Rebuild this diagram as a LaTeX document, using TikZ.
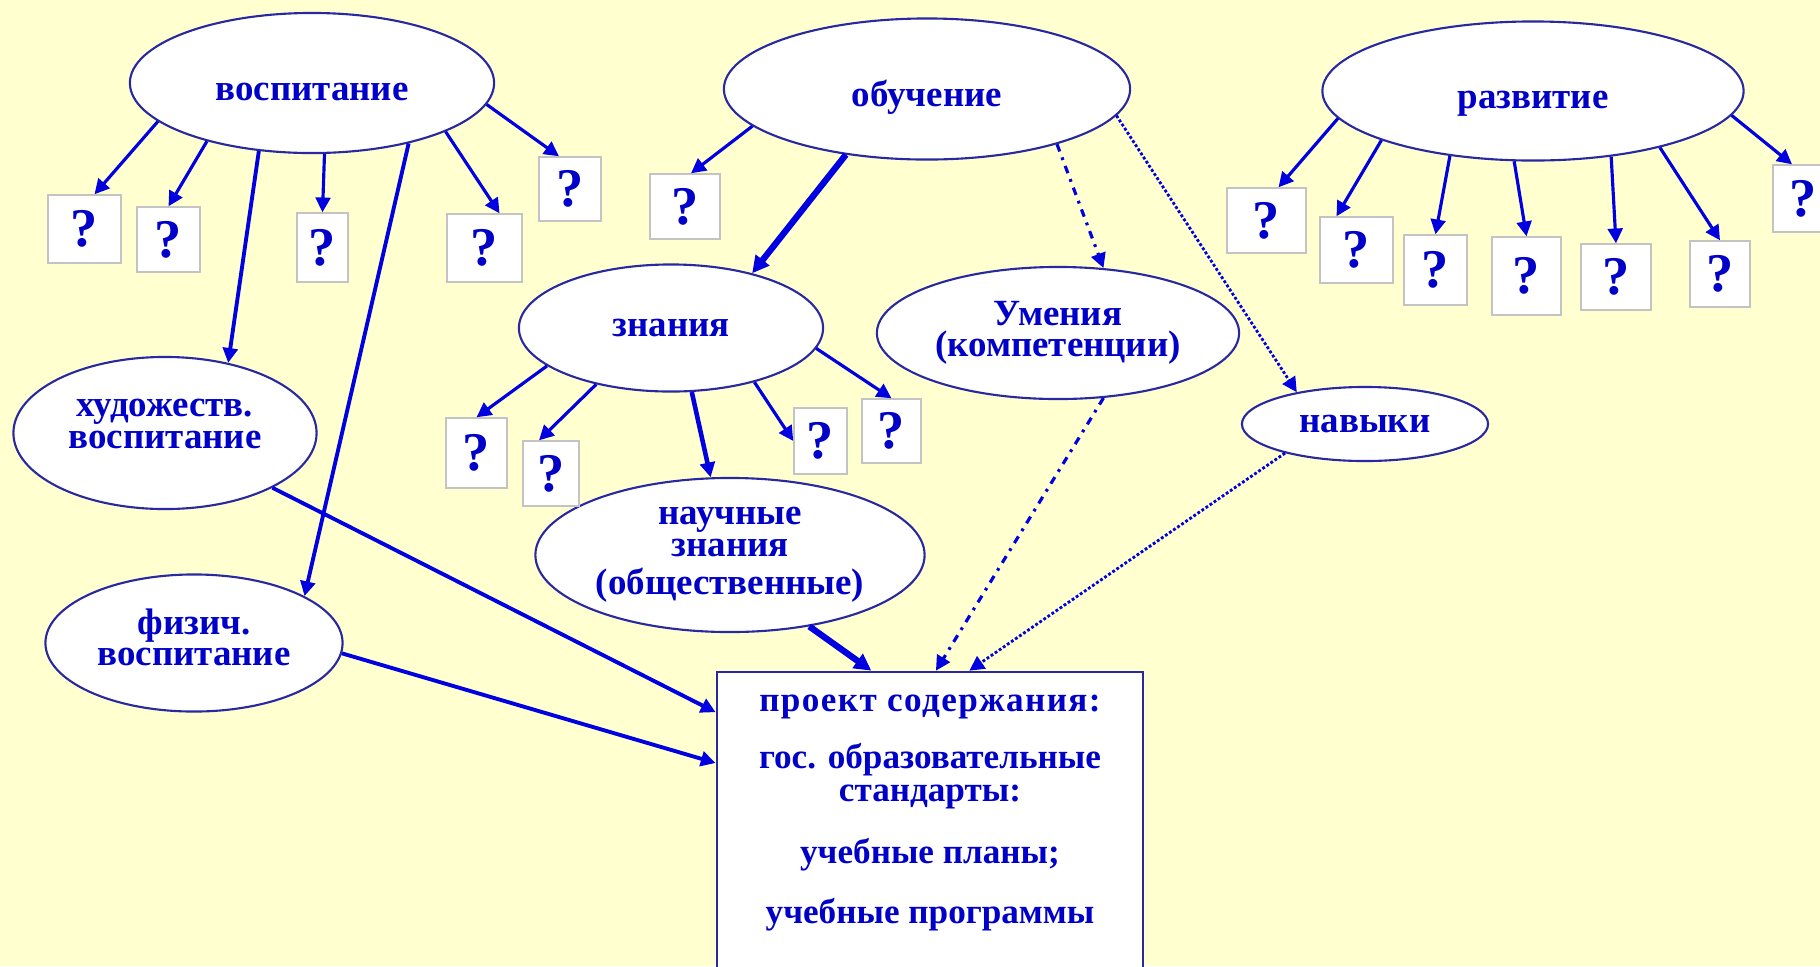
\documentclass[tikz,border=0pt]{standalone}
\usepackage{fontspec}
\setmainfont{Liberation Serif}
\usetikzlibrary{shapes.geometric,arrows.meta,positioning}
\definecolor{bgyel}{RGB}{255,255,208}
\definecolor{tblue}{RGB}{0,0,200}
\definecolor{lblue}{RGB}{0,0,225}
\definecolor{eline}{RGB}{40,40,160}
\definecolor{qgray}{RGB}{195,195,195}
\tikzset{
  enode/.style = {ellipse, draw=eline, line width=0.6pt, fill=white, text=tblue, align=center,
                  inner sep=0pt, font=\bfseries\fontsize{10.5}{9}\selectfont},
  hub/.style = {enode, text height=10pt, text depth=0pt},
  qnode/.style = {rectangle, draw=qgray, line width=0.4pt, fill=white, text=tblue, inner sep=0pt,
                  font=\bfseries\fontsize{15.5}{15.5}\selectfont},
  pnode/.style = {rectangle, draw=eline, line width=0.7pt, fill=white},
  ptext/.style = {anchor=base, inner sep=0pt, text=tblue, font=\bfseries\fontsize{10}{10}\selectfont},
  qarr/.style = {draw=lblue, line width=0.9pt, -{Triangle[length=4.2pt,width=4.2pt]}},
  longarr/.style = {qarr, line width=1.1pt},
  medarr/.style = {qarr, line width=1.3pt},
  fatarr/.style = {draw=lblue, line width=1.8pt, -{Triangle[length=4.8pt,width=4.8pt]}},
  dasharr/.style = {qarr, line width=0.9pt, dash pattern=on 2.2pt off 1.8pt on 0.8pt off 1.8pt},
  dotarr/.style = {qarr, line width=0.8pt, dash pattern=on 0.8pt off 0.6pt}
}
\begin{document}
\begin{tikzpicture}[x=0.01cm,y=-0.01cm]
\useasboundingbox (0,0) rectangle (1820,966);
\clip (0,0) rectangle (1820,966);
\fill[bgyel] (0,0) rectangle (1820,966);

% top row
\node[hub, minimum width=3.64cm, minimum height=1.40cm] (vosp) at (312,83) {воспитание};
\node[hub, minimum width=4.06cm, minimum height=1.41cm] (obuch) at (927,89) {обучение};
\node[hub, minimum width=4.21cm, minimum height=1.39cm] (razv) at (1533,91) {развитие};

% second level
\node[enode, minimum width=3.03cm, minimum height=1.52cm] (hud) at (165,433) {художеств.\\воспитание\\[-3.7pt]};
\node[enode, minimum width=2.97cm, minimum height=1.37cm] (fiz) at (194,643) {физич.\\воспитание\\[-5.6pt]};
\node[enode, minimum width=3.04cm, minimum height=1.27cm] (znan) at (671,328) {знания};
\node[enode, minimum width=3.89cm, minimum height=1.54cm] (nauch) at (730,555) {научные\\знания\\[2pt](общественные)};
\node[enode, minimum width=3.62cm, minimum height=1.32cm] (umen) at (1058,333) {Умения\\(компетенции)};
\node[enode, minimum width=2.46cm, minimum height=0.74cm] (navyk) at (1365,424) {навыки};

% question boxes
\node[qnode, minimum width=0.73cm, minimum height=0.68cm] (qv1) at (84.5,229) {?};
\node[qnode, minimum width=0.63cm, minimum height=0.65cm] (qv2) at (168.5,239.5) {?};
\node[qnode, minimum width=0.51cm, minimum height=0.69cm] (qv3) at (322.5,247.5) {?};
\node[qnode, minimum width=0.75cm, minimum height=0.68cm] (qv4) at (484.5,248) {?};
\node[qnode, minimum width=0.62cm, minimum height=0.64cm] (qv5) at (570,189) {?};
\node[qnode, minimum width=0.70cm, minimum height=0.65cm] (qo1) at (685,206.5) {?};
\node[qnode, minimum width=0.61cm, minimum height=0.70cm] (qk1) at (476.5,453) {?};
\node[qnode, minimum width=0.56cm, minimum height=0.65cm] (qk2) at (551,473.5) {?};
\node[qnode, minimum width=0.53cm, minimum height=0.66cm] (qk3) at (820.5,441) {?};
\node[qnode, minimum width=0.59cm, minimum height=0.64cm] (qk4) at (891.5,431) {?};
\node[qnode, minimum width=0.79cm, minimum height=0.65cm] (qr1) at (1266.5,220.5) {?};
\node[qnode, minimum width=0.73cm, minimum height=0.66cm] (qr2) at (1356.5,250) {?};
\node[qnode, minimum width=0.63cm, minimum height=0.70cm] (qr3) at (1435.5,270) {?};
\node[qnode, minimum width=0.69cm, minimum height=0.78cm] (qr4) at (1526.5,276) {?};
\node[qnode, minimum width=0.70cm, minimum height=0.66cm] (qr5) at (1616,277) {?};
\node[qnode, minimum width=0.60cm, minimum height=0.66cm] (qr6) at (1720,274) {?};
\node[qnode, minimum width=0.60cm, minimum height=0.67cm] (qr7) at (1803,198.5) {?};

% project box
\node[pnode, minimum width=4.26cm, minimum height=3.38cm] (proj) at (930,841) {};
\node[ptext] (pt1) at (930,711) {\addfontfeature{LetterSpace=4}проект содержания:};
\node[ptext] (pt2) at (930,768) {гос. образовательные};
\node[ptext] (pt3) at (930,801) {стандарты:};
\node[ptext] (pt4) at (930,863) {учебные планы;};
\node[ptext] (pt5) at (930,923) {учебные программы};

% воспитание
\draw[qarr] (vosp.194) -- ([xshift=0.1cm]qv1.north);
\draw[qarr] (vosp.209) -- (qv2.north);
\draw[qarr] (vosp.280) -- (qv3.north);
\draw[qarr] (vosp.340) -- ([xshift=0.15cm]qv4.north);
\draw[qarr] (vosp.353) -- ([xshift=-0.11cm]qv5.north);
\draw[longarr] (vosp.232) -- (hud.48);
\draw[longarr] (vosp.328) -- (fiz.23);

% обучение
\draw[qarr] (obuch.192) -- ([xshift=0.06cm]qo1.north);
\draw[fatarr] (obuch.219) -- (znan.34);
\draw[dasharr] (obuch.337) -- (umen.55);
\draw[dotarr] (obuch.352) -- (navyk.155);

% развитие
\draw[qarr] (razv.188) -- ([xshift=0.12cm]qr1.north);
\draw[qarr] (razv.198) -- ([xshift=-0.2cm]qr2.north);
\draw[qarr] (razv.218) -- (qr3.north);
\draw[qarr] (razv.255) -- (qr4.north);
\draw[qarr] (razv.320) -- (qr5.north);
\draw[qarr] (razv.336) -- (qr6.north);
\draw[qarr] (razv.353) -- ([xshift=-0.11cm]qr7.north);

% знания
\draw[qarr] (znan.197) -- (qk1.north);
\draw[qarr] (znan.217) -- ([xshift=-0.12cm]qk2.north);
\draw[medarr] (znan.288) -- (nauch.104);
\draw[qarr] (znan.327) -- (qk3.west);
\draw[qarr] (znan.352) -- (qk4.north);

% into the project
\draw[longarr] (hud.333) -- (proj.149);
\draw[longarr] (fiz.356) -- (proj.160);
\draw[fatarr] (nauch.318) -- (proj.109);
\draw[dasharr] (umen.305) -- (proj.88);
\draw[dotarr] (navyk.200) -- (proj.77);
\end{tikzpicture}
\end{document}
